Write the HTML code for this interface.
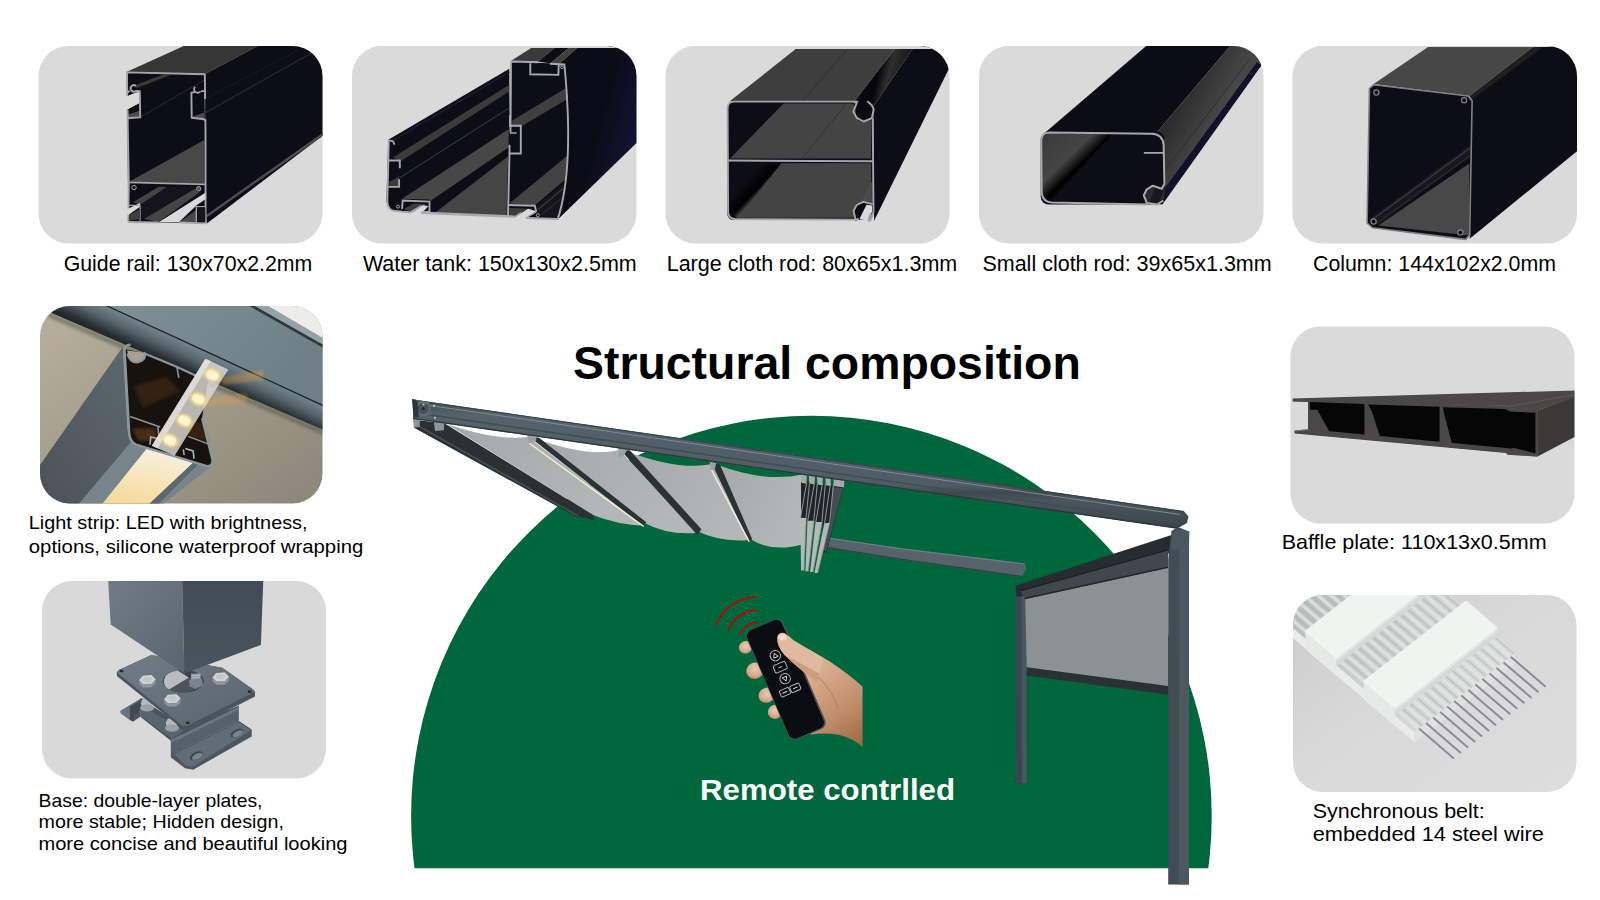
<!DOCTYPE html>
<html><head><meta charset="utf-8"><title>Structural composition</title>
<style>
html,body{margin:0;padding:0;background:#fff;}
body{width:1600px;height:900px;overflow:hidden;font-family:"Liberation Sans",sans-serif;}
svg{display:block;font-family:"Liberation Sans",sans-serif;}
</style></head><body>
<svg width="1600" height="900" viewBox="0 0 1600 900">
<defs>
<clipPath id="c_t1"><rect x="38.5" y="46" width="284" height="197.5" rx="30" ry="30"/></clipPath>
<clipPath id="c_t2"><rect x="352" y="46" width="284.5" height="197.5" rx="30" ry="30"/></clipPath>
<clipPath id="c_t3"><rect x="665.5" y="46" width="284" height="197.5" rx="30" ry="30"/></clipPath>
<clipPath id="c_t4"><rect x="979" y="46" width="284.5" height="197.5" rx="30" ry="30"/></clipPath>
<clipPath id="c_t5"><rect x="1292.5" y="46" width="284.5" height="197.5" rx="30" ry="30"/></clipPath>
<clipPath id="c_led"><rect x="40" y="306" width="282.5" height="197.5" rx="30" ry="30"/></clipPath>
<clipPath id="c_base"><rect x="42" y="581" width="284" height="197.5" rx="30" ry="30"/></clipPath>
<clipPath id="c_baf"><rect x="1290.5" y="326.5" width="284" height="197" rx="30" ry="30"/></clipPath>
<clipPath id="c_belt"><rect x="1293" y="595" width="283.5" height="197" rx="30" ry="30"/></clipPath>
<clipPath id="c_dome"><rect x="400" y="400" width="830" height="468.2"/></clipPath>
<linearGradient id="g_beam" x1="0" y1="0" x2="0.02" y2="1">
<stop offset="0" stop-color="#3f4a51"/><stop offset="0.12" stop-color="#53626b"/><stop offset="0.68" stop-color="#4d5c65"/><stop offset="0.74" stop-color="#3e494f"/><stop offset="0.8" stop-color="#4a565d"/><stop offset="1" stop-color="#3b454c"/></linearGradient>
<linearGradient id="g_fab" x1="0" y1="0" x2="1" y2="0.4">
<stop offset="0" stop-color="#a4a8a9"/><stop offset="1" stop-color="#b4b7b8"/></linearGradient>
<linearGradient id="g_skin" gradientUnits="userSpaceOnUse" x1="790" y1="640" x2="862" y2="745"><stop offset="0" stop-color="#e9c4aa"/><stop offset="0.35" stop-color="#d9ab8d"/><stop offset="0.7" stop-color="#c08c6a"/><stop offset="1" stop-color="#9c6846"/></linearGradient>
<radialGradient id="g_fing" cx="0.55" cy="0.4" r="0.7"><stop offset="0" stop-color="#ebc9b2"/><stop offset="0.6" stop-color="#d9ab8f"/><stop offset="1" stop-color="#b07b5c"/></radialGradient>
<linearGradient id="g_t2s" x1="0" y1="0" x2="1" y2="0.55"><stop offset="0" stop-color="#0c0c19"/><stop offset="0.55" stop-color="#0b0b16"/><stop offset="1" stop-color="#15153a"/></linearGradient>
<linearGradient id="g_t3g" x1="0" y1="0" x2="1" y2="0.3"><stop offset="0" stop-color="#101018"/><stop offset="0.45" stop-color="#05050a"/><stop offset="0.62" stop-color="#2f2f2f"/><stop offset="1" stop-color="#0c0c14"/></linearGradient>
<linearGradient id="g_t3h" x1="0" y1="0" x2="1" y2="1"><stop offset="0.3" stop-color="#0d0d17"/><stop offset="0.5" stop-color="#000"/><stop offset="0.62" stop-color="#777"/><stop offset="0.75" stop-color="#444"/></linearGradient>
<linearGradient id="g_t4s" x1="0" y1="0" x2="1" y2="0.75"><stop offset="0" stop-color="#0e0e14"/><stop offset="0.3" stop-color="#2a2a2a"/><stop offset="0.6" stop-color="#474747"/><stop offset="1" stop-color="#3a3a3a"/></linearGradient>
<linearGradient id="g_t4i" x1="0" y1="0" x2="1" y2="1"><stop offset="0" stop-color="#3a3a3a"/><stop offset="0.36" stop-color="#454545"/><stop offset="0.45" stop-color="#1a1a1a"/><stop offset="0.5" stop-color="#000"/><stop offset="0.6" stop-color="#0d0d17"/></linearGradient>
<linearGradient id="g_ledbg" x1="0" y1="0" x2="1" y2="1"><stop offset="0" stop-color="#b9b19d"/><stop offset="0.45" stop-color="#a39d8c"/><stop offset="1" stop-color="#8b8678"/></linearGradient>
<linearGradient id="g_ledbeam" x1="0" y1="0" x2="1" y2="0.45"><stop offset="0" stop-color="#7f9095"/><stop offset="1" stop-color="#6e7f86"/></linearGradient>
<linearGradient id="g_ledleft" x1="0" y1="1" x2="1" y2="0"><stop offset="0" stop-color="#4a5359"/><stop offset="1" stop-color="#5d686e"/></linearGradient>
<linearGradient id="g_diff" x1="0.6" y1="0" x2="0.3" y2="1"><stop offset="0" stop-color="#f4f0e2"/><stop offset="0.5" stop-color="#f8e6bb"/><stop offset="1" stop-color="#f6d99a"/></linearGradient>
<radialGradient id="g_chip"><stop offset="0" stop-color="#fffbe8"/><stop offset="0.5" stop-color="#ffe9a8"/><stop offset="1" stop-color="#f5c36a" stop-opacity="0"/></radialGradient>
<filter id="f_blur2" x="-20%" y="-20%" width="140%" height="140%"><feGaussianBlur stdDeviation="1.6"/></filter>
<linearGradient id="g_ledband" gradientUnits="userSpaceOnUse" x1="200" y1="352" x2="189" y2="376"><stop offset="0" stop-color="#6d7e85"/><stop offset="0.35" stop-color="#55636a"/><stop offset="0.75" stop-color="#2a3236"/><stop offset="1" stop-color="#1c2225"/></linearGradient>
<linearGradient id="g_colL" x1="0" y1="0" x2="1" y2="1"><stop offset="0" stop-color="#727c86"/><stop offset="1" stop-color="#5a646e"/></linearGradient>
<linearGradient id="g_colR" x1="0" y1="0" x2="0" y2="1"><stop offset="0" stop-color="#424c55"/><stop offset="1" stop-color="#4a545e"/></linearGradient>
<linearGradient id="g_plate" x1="0" y1="0" x2="1" y2="1"><stop offset="0" stop-color="#737d87"/><stop offset="0.6" stop-color="#636d77"/><stop offset="1" stop-color="#5b656f"/></linearGradient>
<linearGradient id="g_tile_belt" x1="0" y1="0" x2="1" y2="1"><stop offset="0" stop-color="#cbcbcb"/><stop offset="0.45" stop-color="#d9d9d9"/><stop offset="1" stop-color="#dddddd"/></linearGradient>
<linearGradient id="g_belt" gradientUnits="userSpaceOnUse" x1="1300" y1="600" x2="1480" y2="720"><stop offset="0" stop-color="#b9bdbd"/><stop offset="0.5" stop-color="#cdd1d0"/><stop offset="1" stop-color="#d8dcda"/></linearGradient>
</defs>
<circle cx="811.4" cy="816" r="400.3" fill="#00663b" clip-path="url(#c_dome)"/>
<polygon points="828,537.5 900,548.2 1024.5,563.5 1026.5,568 1022,577 900,559.5 828,548" fill="#56636a" />
<polyline points="828,538 900,548.7 1024.5,564" fill="none" stroke="#6f7d84" stroke-width="1.2" />
<polyline points="828,547.5 900,559 1022,576.5" fill="none" stroke="#333c42" stroke-width="1.2" />
<path d="M446.7,423.9 Q498.0,441.1 528.3,436.9 L643.8,525.8 Q616.9,524.6 593.6,515.3 Z" fill="url(#g_fab)"/>
<path d="M531.8,437.1 Q586.6,458.1 619.3,450.0 L698.6,532.8 Q668.3,535.8 643.8,522.8 Z" fill="url(#g_fab)"/>
<path d="M623.3,450.2 Q679.3,471.1 712.0,464.1 L749.3,540.0 Q721.3,542.8 696.8,531.1 Z" fill="url(#g_fab)"/>
<path d="M715.5,464.1 Q763.3,482.8 802.5,474.6 L802.9,544.2 Q772.6,552.8 750.5,539.3 Z" fill="url(#g_fab)"/>
<polygon points="801.0,481.7 843.6,486.7 826.5,552.5 823.4,552.5 822.6,523.6 801.0,520.0" fill="#1f2428" />
<polygon points="832.3,487.2 843.0,488.0 826.0,552.5 823.6,549.6 830.9,522.1" fill="#444d52" />
<polygon points="801.0,474.5 806.9,475.2 806.3,483.7 801.4,482.8" fill="#a5abad" />
<polygon points="808.9,475.5 815.0,476.3 814.4,484.5 809.3,483.6" fill="#a5abad" />
<polygon points="817.0,476.5 822.9,477.3 822.3,485.3 817.4,484.4" fill="#a5abad" />
<polygon points="825.4,477.6 830.9,478.3 830.3,486.1 825.8,485.3" fill="#a5abad" />
<polygon points="833.5,478.7 844.5,480.1 843.9,487.5 833.9,486.1" fill="#a5abad" />
<polygon points="800.2,517.8 806.3,518.1 804.0,570.5 801.1,570.5" fill="#b4b8b9" />
<polyline points="806.6,483.1 800.5,517.8" fill="none" stroke="#9ea4a6" stroke-width="0.9" />
<polyline points="809.5,483.8 806.0,518.1" fill="none" stroke="#9ea4a6" stroke-width="0.9" />
<polyline points="806.3,518.1 804.0,570.5" fill="none" stroke="#7e8588" stroke-width="0.7" />
<polygon points="807.5,520.7 814.1,520.7 808.3,571.3 805.4,571.3" fill="#b4b8b9" />
<polyline points="814.4,483.1 807.7,520.7" fill="none" stroke="#9ea4a6" stroke-width="0.9" />
<polyline points="817.3,483.8 813.8,520.7" fill="none" stroke="#9ea4a6" stroke-width="0.9" />
<polyline points="814.1,520.7 808.3,571.3" fill="none" stroke="#7e8588" stroke-width="0.7" />
<polygon points="815.5,522.1 822.2,522.1 813.1,572.1 810.1,572.1" fill="#b4b8b9" />
<polyline points="822.5,483.1 815.8,522.1" fill="none" stroke="#9ea4a6" stroke-width="0.9" />
<polyline points="825.4,483.8 821.9,522.1" fill="none" stroke="#9ea4a6" stroke-width="0.9" />
<polyline points="822.2,522.1 813.1,572.1" fill="none" stroke="#7e8588" stroke-width="0.7" />
<polygon points="824.2,523.6 830.0,522.4 817.7,573.0 814.4,573.0" fill="#b4b8b9" />
<polyline points="830.6,483.1 824.5,523.6" fill="none" stroke="#9ea4a6" stroke-width="0.9" />
<polyline points="833.5,483.8 829.7,522.4" fill="none" stroke="#9ea4a6" stroke-width="0.9" />
<polyline points="830.0,522.4 817.7,573.0" fill="none" stroke="#7e8588" stroke-width="0.7" />
<polygon points="528.3,436.0 539.0,437.8 646.3,522.3 643.8,526.5" fill="#2b3236" />
<polyline points="529.0,443.0 643.8,526.5" fill="none" stroke="#f4efcf" stroke-width="1.5" />
<polygon points="527.1,435.1 536.5,436.9 536.0,441.1 528.8,443.4" fill="#9aa0a2" />
<polygon points="619.3,448.8 630.0,450.4 701.4,529.3 697.4,534.9" fill="#2b3236" />
<polygon points="618.1,447.6 627.4,449.5 623.9,455.8 619.3,457.0" fill="#9aa0a2" />
<polygon points="712.0,463.0 719.9,464.4 752.1,539.0 749.3,542.8" fill="#2b3236" />
<polyline points="711.5,470.0 749.3,541.8" fill="none" stroke="#f4efcf" stroke-width="1.5" />
<polygon points="709.6,461.8 716.2,463.0 714.8,469.5 711.0,470.0" fill="#9aa0a2" />
<polygon points="414.0,419.7 444.3,423.2 594.1,515.8 593.1,520.0 584.3,517.6 577.7,517.6 414.0,427.8" fill="#2a3034" />
<polyline points="417.5,425.5 578.4,516.0" fill="none" stroke="#474f54" stroke-width="1.5" />
<polygon points="412.8,418.5 419.8,419.2 419.8,426.7 414.0,427.8" fill="#8e9598" />
<polygon points="433.8,422.0 444.3,422.9 443.9,430.2 435.0,430.9" fill="#8e9598" />
<polygon points="413,399.5 1184,511.2 1188.5,516.5 1187,523 1177,528.5 413,418.8" fill="url(#g_beam)" />
<polyline points="413,400 1184,511.6" fill="none" stroke="#38424a" stroke-width="1.2" />
<polyline points="430,405.5 1180,514.5" fill="none" stroke="#7d8b92" stroke-width="1" />
<polyline points="413,412.5 1180,523" fill="none" stroke="#414c53" stroke-width="1.4" />
<polyline points="413,418.3 1177,528" fill="none" stroke="#2c353b" stroke-width="1.3" />
<polygon points="412.1,399.1 429.2,402.2 431.5,415.0 418.7,418.5 413.5,417.3" fill="#56636a" />
<circle cx="423.3" cy="408.5" r="6.4" fill="#46525a" stroke="#65737b" stroke-width="1.2"/>
<circle cx="423.3" cy="408.5" r="1.6" fill="#222a30"/>
<rect x="413.6" y="414.6" width="1.8" height="1.8" fill="#c5ccd0"/>
<rect x="433.1" y="404.90000000000003" width="1.8" height="1.8" fill="#c5ccd0"/>
<rect x="434.1" y="416.90000000000003" width="1.8" height="1.8" fill="#c5ccd0"/>
<rect x="422.6" y="403.6" width="1.8" height="1.8" fill="#c5ccd0"/>
<polygon points="412.1,399.1 417.5,401.0 418.7,417.3 413.5,417.3" fill="#2e363b" />
<polygon points="1015.5,585.7 1026.5,588 1026.7,783.3 1015.8,783.3" fill="#3b454c" />
<polygon points="1021.5,587 1026.5,588 1026.7,783.3 1022,783.3" fill="#4b575e" />
<polygon points="1025.3,598 1168,566.5 1168.2,688 1026.7,668.5" fill="#8c9294" />
<polygon points="1015.5,585.7 1171.5,535.1 1171.5,552.5 1025.3,595.9 1016.3,596.4" fill="#262c30" />
<polygon points="1020.1,590.8 1168.4,549.9 1167.9,567.8 1025.3,599.0" fill="#3f484d" />
<polyline points="1020.1,590.8 1168.4,549.9" fill="none" stroke="#1d2226" stroke-width="1.5" />
<polyline points="1024.7,598.5 1167.9,567.3" fill="none" stroke="#22282c" stroke-width="1.5" />
<polygon points="1026.7,667.3 1168.2,685.9 1168.2,694.7 1026.7,675.4" fill="#2a3135" />
<polygon points="1171.5,531 1178,527 1189,531.5 1189,884.4 1168.2,884.4 1168.2,560" fill="#414c53" />
<polygon points="1179.5,548 1189,546 1189,884.4 1179,884.4" fill="#4d5960" />
<polygon points="1171.5,535.1 1177.4,529.5 1189.4,531.5 1188.9,547.4 1171.5,549.9" fill="#4a575e" />
<path d="M792.2,639.5 L804.7,647.0 L817.1,654.0 L829.5,661.3 Q848.2,673.8 862.5,686.5 L862.5,746.9 Q854.4,738.8 838.9,734.7 Q823.3,732.6 810.9,734.4 L795.3,703.3 L789.1,656.7 Z" fill="url(#g_skin)"/>
<path d="M810.9,672.2 Q829.5,683.1 838.9,709.5" fill="none" stroke="#a9775a" stroke-width="1.2" opacity="0.55"/>
<ellipse cx="745.6" cy="647.3" rx="6.8" ry="6.2" fill="url(#g_fing)" transform="rotate(-20 745.6 647.3)"/>
<ellipse cx="754.9" cy="670.7" rx="8.7" ry="8.1" fill="url(#g_fing)" transform="rotate(-20 754.9 670.7)"/>
<ellipse cx="767.0" cy="695.2" rx="8.6" ry="7.5" fill="url(#g_fing)" transform="rotate(-20 767.0 695.2)"/>
<ellipse cx="775.1" cy="711.9" rx="7.3" ry="7.0" fill="url(#g_fing)" transform="rotate(-20 775.1 711.9)"/>
<g transform="translate(786,679.4) rotate(-23.2)"><rect x="-20" y="-59.5" width="40" height="119" rx="7" fill="#4a5158"/><rect x="-19.3" y="-59.1" width="37.7" height="117.6" rx="6.5" fill="#0a0d12"/><circle cx="-0.5" cy="-26" r="5.2" fill="none" stroke="#bfc3c6" stroke-width="0.9"/><path d="M-2.9,-24.3 L-0.5,-28.6 L1.9,-24.3 Z" fill="none" stroke="#f0f0f0" stroke-width="0.8"/><rect x="-7" y="-17.5" width="13" height="8" rx="1.6" fill="none" stroke="#bfc3c6" stroke-width="0.9"/><path d="M-2.2,-13.5 H1.4" stroke="#e8e8e8" stroke-width="0.8"/><circle cx="-0.5" cy="-1" r="5.2" fill="none" stroke="#bfc3c6" stroke-width="0.9"/><path d="M-2.9,-2.8 L-0.5,1.5 L1.9,-2.8 Z" fill="none" stroke="#f0f0f0" stroke-width="0.8"/><rect x="-11" y="8" width="10" height="6.8" rx="1.3" fill="none" stroke="#bfc3c6" stroke-width="0.9"/><rect x="0.2" y="8" width="10" height="6.8" rx="1.3" fill="none" stroke="#bfc3c6" stroke-width="0.9"/><path d="M-8.5,11.4 H-3.5 M2.7,11.4 H7.7" stroke="#e8e8e8" stroke-width="0.9"/></g>
<path d="M777.1,637.7 Q778.2,631.8 784.4,633.0 Q789.9,636.4 793.8,640.8 L806.2,647.9 L823.3,657.9 L817.1,683.1 Q807.8,675.3 803.1,671.6 Q792.2,662.9 784.4,655.1 Q776.7,645.8 777.1,637.7 Z" fill="#e2b99e"/>
<path d="M784.4,655.1 Q792.2,662.9 803.1,671.6 Q807.8,675.3 817.1,683.1 L819.4,673.8 Q803.1,664.4 784.4,655.1 Z" fill="#c4926f" opacity="0.7"/>
<path d="M777.9,638.0 Q779.0,633.3 784.1,634.1 Q787.9,636.7 786.0,640.3 Q780.5,641.1 777.9,638.0 Z" fill="#f3dccd"/>
<path d="M716.3,624.3 A45.3,45.3 0 0 1 754.8,596.8" fill="none" stroke="#c00000" stroke-width="1.8" stroke-linecap="round"/>
<path d="M728.5,629.5 A32,32 0 0 1 755.8,610.1" fill="none" stroke="#c00000" stroke-width="1.8" stroke-linecap="round"/>
<path d="M740.2,634.5 A19.3,19.3 0 0 1 756.7,622.7" fill="none" stroke="#c00000" stroke-width="1.8" stroke-linecap="round"/>
<rect x="38.5" y="46" width="284" height="197.5" rx="30" ry="30" fill="#dadada"/>
<g clip-path="url(#c_t1)">
<polygon points="126.4,72.0 185.3,45.3 259.3,45.3 205.1,74.1" fill="#363636" />
<polygon points="205.1,74.1 259.3,45.3 324.0,45.3 324.0,136.0 323.3,135.3 206.9,223.6 205.3,210.0" fill="#0d0d17" />
<polyline points="205.3,112.7 312.0,52.7" fill="none" stroke="#2a2a33" stroke-width="1.2" />
<polyline points="205.3,98.7 297.3,50.7" fill="none" stroke="#1a1a24" stroke-width="1" />
<polyline points="206.1,216.4 323.3,134.0" fill="none" stroke="#4e4e4e" stroke-width="2.4" />
<polygon points="126.9,72.5 204.3,74.4 206.4,223.3 128.3,222.0" fill="#0d0d17" />
<polygon points="130.4,180.9 204.3,140.0 204.3,183.6 130.4,181.7" fill="#484848" />
<polyline points="140.0,117.3 204.3,80.0" fill="none" stroke="#2b2b36" stroke-width="1" />
<polygon points="131.7,84.9 160.4,74.4 176.0,74.8 137.9,90.7" fill="#101018" />
<polygon points="133.6,85.7 163.5,74.6 171.3,74.8 136.7,88.0" fill="#3a3a3a" />
<polygon points="120.0,96.5 127.0,95.8 139.1,91.5 139.1,103.5 127.4,109.8 120.0,112.9" fill="#dadada" />
<polygon points="127.4,109.8 139.1,103.5 139.1,117.2 127.8,117.9" fill="#101018" />
<polygon points="127.8,114.4 139.1,110.9 139.1,117.2 127.8,117.9" fill="#4e4e4e" />
<polygon points="127.2,91.1 136.7,91.1 127.2,96.2" fill="#0d0d17" />
<polygon points="192.7,116.4 204.4,112.5 204.4,119.1 192.7,117.5" fill="#4a4a4a" />
<polyline points="127.2,95.9 127.0,72.4 204.8,74.2 205.1,98.9" fill="none" stroke="#a6a6aa" stroke-width="1.9" stroke-linejoin="round"/>
<path d="M127.2,92.7 L129.7,90.7 M135.9,86.0 A 3.2 3.2 0 1 0 135.9,90.9 L139.8,91.3 L140.2,117.4 L127.6,118.2" fill="none" stroke="#a6a6aa" stroke-width="1.9" stroke-linejoin="round"/>
<path d="M204.4,91.1 L200.9,91.1 M195.0,86.8 A 3.2 3.2 0 1 0 200.5,91.5 M195.8,91.9 L191.4,92.7 L191.7,117.7 L204.1,119.3 L205.5,120.3" fill="none" stroke="#a6a6aa" stroke-width="1.9" stroke-linejoin="round"/>
<polyline points="127.6,109.8 127.8,130.0 128.8,182.7 128.3,222.0" fill="none" stroke="#a6a6aa" stroke-width="1.9" />
<polyline points="205.4,119.5 205.5,130.0 205.6,223.3" fill="none" stroke="#a6a6aa" stroke-width="1.9" />
<polyline points="128.8,182.3 205.3,184.4" fill="none" stroke="#a6a6aa" stroke-width="1.8" />
<circle cx="134.0" cy="187.6" r="2.2" fill="none" stroke="#a6a6aa" stroke-width="1"/>
<circle cx="198.7" cy="188.7" r="2.2" fill="#55555a" stroke="#a6a6aa" stroke-width="1"/>
<polygon points="133.3,202.0 160.0,186.0 194.7,187.3 146.7,218.0 140.0,218.0 140.0,204.7" fill="#14141d" />
<polygon points="133.3,202.0 158.7,186.7 166.7,187.1 140.0,204.7" fill="#444" />
<polygon points="144.0,219.1 194.7,188.7 200.0,192.0 158.7,222.0" fill="#454545" />
<polygon points="158.7,222.3 205.3,192.7 205.3,199.3 196.7,205.3 178.7,222.3" fill="#dadada" />
<polygon points="178.7,222.3 196.7,210.0 196.7,222.3" fill="#484848" />
<polygon points="125.3,210.0 140.0,203.1 140.0,206.7 128.0,215.3" fill="#dadada" />
<polyline points="128.8,205.3 140.0,205.3 140.0,220.7" fill="none" stroke="#a6a6aa" stroke-width="1.3" />
<polyline points="128.3,222.0 158.7,222.3" fill="none" stroke="#a6a6aa" stroke-width="1.8" />
<polygon points="128.8,215.3 140.0,208.7 140.0,219.3 128.8,220.4" fill="#3e3e3e" />
<polyline points="178.7,222.3 206.7,223.3" fill="none" stroke="#a6a6aa" stroke-width="1.8" />
<polyline points="196.3,222.0 196.3,206.7 205.6,206.7" fill="none" stroke="#a6a6aa" stroke-width="1.3" />
<polygon points="197.1,207.6 205.3,207.6 205.3,222.0 197.1,221.3" fill="#15151e" />
</g>
<rect x="352" y="46" width="284.5" height="197.5" rx="30" ry="30" fill="#dadada"/>
<g clip-path="url(#c_t2)">
<path d="M564.4,63.8 L589.6,44.8 L643.2,44.8 L639.3,140.3 L557.5,219.8 Q575.0,167.5 564.4,63.8 Z" fill="url(#g_t2s)"/>
<polygon points="510.8,60.9 536.3,44.8 558.7,44.8 537.9,61.5" fill="#3a3a3a" />
<polygon points="537.9,61.5 558.7,44.8 572.6,44.8 550.3,63.5" fill="#0c0c15" />
<polygon points="550.3,63.5 572.6,44.8 580.7,44.8 559.1,64.1" fill="#404040" />
<polygon points="559.1,64.1 580.7,44.8 590.4,44.8 565.2,64.5" fill="#0c0c15" />
<polygon points="388.3,139.8 509.3,68.8 509.3,215.9 421.3,212.6 391.0,210.0 386.4,201.2" fill="#0d0d17" />
<polyline points="391.0,141.6 509.3,72.1" fill="none" stroke="#1c1c2e" stroke-width="1.6" />
<polygon points="392.8,157.6 509.3,84.8 509.3,91.5 401.1,160.9" fill="#3b3b3b" />
<polyline points="400.2,177.4 509.3,108.0" fill="none" stroke="#4a4a58" stroke-width="0.8" />
<polygon points="389.2,181.8 399.3,176.6 399.3,186.5 389.2,186.5" fill="#3b3b3b" />
<polygon points="402.0,198.8 509.3,128.8 509.3,147.1 430.4,201.0 429.1,199.4" fill="#474747" />
<polygon points="435.0,212.8 509.3,155.4 508.4,216.2" fill="#454545" />
<polygon points="403.8,208.9 413.9,203.4 425.8,204.1 419.4,211.8 410.3,211.8" fill="#3c3c3c" />
<path d="M510.8,61.5 L564.4,64.1 Q575.0,167.5 557.5,219.5 L506.5,216.2 Z" fill="#0d0d17"/>
<polygon points="512.2,120.5 566.5,87.8 567.9,98.8 521.5,126.3 512.2,126.3" fill="#3f3f3f" />
<polygon points="509.4,203.5 567.5,155.6 564.8,180.0 535.0,205.2" fill="#434343" />
<polygon points="536.2,206.2 563.8,183.8 560.0,217.5 542.5,216.2 536.2,213.5" fill="#15151d" />
<polyline points="537.5,210.0 562.8,188.8" fill="none" stroke="#3a3a3a" stroke-width="1.2" />
<polyline points="541.2,215.0 561.5,198.1" fill="none" stroke="#333" stroke-width="1" />
<polygon points="509.4,208.1 533.1,208.8 520.0,216.2 509.4,215.0" fill="#3c3c3c" />
<polygon points="410.3,214.0 421.4,214.0 428.4,206.0 422.5,205.2" fill="#dadada" />
<polygon points="514.8,217.5 525.8,218.2 536.2,211.2 528.1,208.8" fill="#dadada" />
<path d="M510.5,132.6 L511.0,63.2 Q511.0,61.5 512.9,61.5 L537.9,62.2 M530.3,63.2 L530.3,74.2 L558.4,74.9 L558.7,64.5 M550.0,63.8 L564.4,64.5 Q574.4,167.5 557.8,219.0 L526.0,218.0" fill="none" stroke="#a9a9ad" stroke-width="1.9"/>
<circle cx="562.0" cy="67.2" r="1.4" fill="#0d0d17" stroke="#a9a9ad" stroke-width="0.9"/>
<polyline points="510.0,115.0 510.0,125.7 520.8,125.7 520.8,153.5 509.5,153.5 508.0,215.9" fill="none" stroke="#a9a9ad" stroke-width="1.9" />
<polyline points="510.0,133.0 516.6,133.0" fill="none" stroke="#a9a9ad" stroke-width="1.4" />
<polyline points="509.5,144.7 509.5,153.5" fill="none" stroke="#a9a9ad" stroke-width="1.9" />
<polyline points="507.8,205.0 534.8,205.8 536.2,211.9" fill="none" stroke="#a9a9ad" stroke-width="1.9" />
<polyline points="525.6,218.0 536.2,211.9" fill="none" stroke="#a9a9ad" stroke-width="1.4" />
<circle cx="537.8" cy="215.2" r="1.5" fill="#0d0d17" stroke="#a9a9ad" stroke-width="0.9"/>
<polyline points="421.2,212.8 506.5,216.2 514.8,216.8" fill="none" stroke="#a9a9ad" stroke-width="2.4" />
<polyline points="514.8,216.8 521.2,212.5" fill="none" stroke="#a9a9ad" stroke-width="1.4" />
<path d="M394.3,144.7 Q393.8,140.0 388.8,140.7 L387.3,201.2 Q387.3,210.4 395.6,211.1 L410.3,212.6 L421.4,205.8" fill="none" stroke="#a9a9ad" stroke-width="1.9"/>
<polyline points="388.4,160.5 399.8,160.5 399.8,168.2" fill="none" stroke="#a9a9ad" stroke-width="1.9" />
<polyline points="388.4,186.9 399.1,186.9 399.1,179.2" fill="none" stroke="#a9a9ad" stroke-width="1.9" />
<polyline points="402.0,208.9 402.7,200.5 429.5,201.6 429.5,211.5 421.8,212.6" fill="none" stroke="#a9a9ad" stroke-width="1.9" />
<circle cx="398.0" cy="206.7" r="1.5" fill="#0d0d17" stroke="#a9a9ad" stroke-width="0.9"/>
</g>
<rect x="352" y="45" width="285" height="3" fill="#dadada" clip-path="url(#c_t2)"/>
<rect x="665.5" y="46" width="284" height="197.5" rx="30" ry="30" fill="#dadada"/>
<g clip-path="url(#c_t3)">
<polygon points="730.0,101.1 801.1,44.7 897.9,44.7 854.8,101.1" fill="#3e3e3e" />
<polyline points="802.3,101.1 851.3,44.7" fill="none" stroke="#2c2c2c" stroke-width="0.8" />
<polygon points="854.8,101.1 897.9,44.7 915.4,44.7 873.4,106.5 865.3,120.5 857.1,117.0" fill="url(#g_t3g)" />
<polygon points="873.4,106.5 915.4,44.7 953.9,44.7 950.4,65.7 874.1,220.8" fill="#0d0d17" />
<rect x="727.2" y="101.3" width="146" height="118.8" rx="6.5" fill="#0d0d17"/>
<polygon points="783.6,103.4 853.6,103.4 858.3,120.5 871.1,120.5 871.1,158.5 730.0,158.5" fill="#444444" />
<polygon points="773.1,163.2 871.1,163.2 871.1,201.0 855.9,203.3 853.6,217.7 737.0,217.7 731.1,211.4" fill="#444444" />
<polygon points="762.6,163.2 781.3,163.2 738.1,217.7 730.0,212.6 730.0,203.3" fill="url(#g_t3h)" />
<polyline points="846.6,103.4 802.3,158.5" fill="none" stroke="#2e2e2e" stroke-width="0.8" />
<path d="M858.3,102.5 L871.1,102.5 L871.8,119.3 L862.9,121.2 L855.5,115.1 Z" fill="#0a0a10"/>
<path d="M858.3,101.6 L733.5,101.6 Q727.6,101.6 727.6,108.8 L728.1,212.6 Q728.8,219.1 735.8,219.1 L857.1,219.6" fill="none" stroke="#a6a6a9" stroke-width="1.9"/>
<path d="M854.0,101.8 L856.7,103.1 L853.3,111.6 L856.7,117.8 L863.8,121.5 L871.8,118.2 L873.7,109.3 L871.8,105.3 L867.3,101.3" fill="none" stroke="#a6a6a9" stroke-width="1.9" stroke-linejoin="round"/>
<polygon points="859.3,219.3 866.5,204.8 872.0,205.6 872.1,211.3 868.3,220.8" fill="#dadada" />
<polygon points="855.5,211.0 858.1,205.9 866.0,204.4 858.8,218.7" fill="#0a0a12" />
<polygon points="861.3,201.2 872.7,180.0 872.7,203.5 867.3,202.3" fill="#4e4e4e" opacity="0.8"/>
<path d="M855.0,220.8 L858.7,218.7 M855.7,220.0 L853.5,211.0 L856.7,204.8 L863.3,201.8 L872.7,204.1" fill="none" stroke="#a6a6a9" stroke-width="1.9" stroke-linejoin="round"/>
<path d="M872.7,118.8 L873.5,212.0 L870.3,220.8 L868.1,220.5 L870.8,213.3" fill="none" stroke="#a6a6a9" stroke-width="1.9" stroke-linejoin="round"/>
<polyline points="728.1,160.6 872.7,161.3" fill="none" stroke="#a6a6a9" stroke-width="2" />
</g>
<rect x="665" y="45" width="285" height="4" fill="#dadada" clip-path="url(#c_t3)"/>
<rect x="979" y="46" width="284.5" height="197.5" rx="30" ry="30" fill="#dadada"/>
<g clip-path="url(#c_t4)">
<polygon points="1045.8,132.1 1147.7,44.7 1231.3,44.7 1156.6,132.8" fill="#0c0c16" />
<polygon points="1156.6,132.8 1231.3,44.7 1263.9,44.7 1261.1,65.2 1164.1,194.0 1164.8,140.3" fill="url(#g_t4s)" />
<polygon points="1164.1,189.3 1256.9,62.2 1261.6,65.2 1162.4,204.5 1151.9,203.3" fill="#11112a" />
<polyline points="1164.8,170.6 1249.9,58.7" fill="none" stroke="#2a2a2a" stroke-width="0.8" />
<rect x="1040.7" y="131.6" width="124" height="73" rx="8" fill="#0d0d17"/>
<polygon points="1042.8,138.0 1047.0,133.8 1112.3,133.8 1050.5,201.0 1042.8,194.0" fill="url(#g_t4i)" />
<polygon points="1146.5,190.2 1153.3,186.3 1162.3,189.2 1164.6,184.4 1164.9,193.9 1163.4,200.3 1157.0,204.3 1147.5,202.9 1144.4,195.5" fill="#2b2b2b" />
<polygon points="1154.9,187.6 1163.4,189.7 1159.1,203.4 1149.6,202.4" fill="#111118" opacity="0.7"/>
<path d="M1163.4,200.5 L1157.0,204.5 L1147.0,203.1 L1143.8,195.5 L1146.5,189.7 L1152.8,185.7 L1161.8,188.8 L1164.4,183.6 L1163.6,144.8 Q1162.8,134.3 1151.7,133.7 L1049.3,132.4 Q1041.4,132.8 1041.4,140.8 L1041.8,194.0 Q1043.5,202.1 1051.6,202.6 L1147.0,204.5" fill="none" stroke="#a8a8ac" stroke-width="2" stroke-linejoin="round"/>
<polyline points="1143.8,152.9 1163.4,152.9" fill="none" stroke="#a8a8ac" stroke-width="1.8" />
</g>
<rect x="1292.5" y="46" width="284.5" height="197.5" rx="30" ry="30" fill="#dadada"/>
<g clip-path="url(#c_t5)">
<polygon points="1373.6,83.9 1431.5,44.7 1535.8,44.7 1469.3,96.0" fill="#474747" />
<polygon points="1469.3,96.0 1535.8,44.7 1548.6,44.7 1472.8,101.1" fill="#1f1f1f" />
<polygon points="1472.3,99.5 1546.3,44.7 1578.9,44.7 1578.9,149.6 1469.7,238.7" fill="#0d0d17" />
<polygon points="1373.6,84.8 1468.1,96.0 1472.1,101.1 1469.7,234.8 1465.8,239.4 1372.5,227.8 1367.1,223.1 1369.4,88.5" fill="#0d0d17" />
<polygon points="1378.3,225.4 1469.3,163.6 1469.3,235.5" fill="#484848" />
<polygon points="1369.4,218.4 1470.4,144.5 1470.4,156.6 1378.3,224.7" fill="#17171d" />
<polyline points="1370.8,220.8 1470.4,147.8" fill="none" stroke="#3c3c3c" stroke-width="1.4" />
<polyline points="1374.8,224.3 1470.4,155.5" fill="none" stroke="#333" stroke-width="1" />
<polygon points="1373.6,84.8 1468.1,96.0 1472.1,101.1 1469.7,234.8 1465.8,239.4 1372.5,227.8 1367.1,223.1 1369.4,88.5" fill="none" stroke="#808084" stroke-width="1.6" stroke-linejoin="round"/>
<circle cx="1376.4" cy="92.5" r="2.6" fill="#0d0d17" stroke="#808084" stroke-width="1.2"/>
<circle cx="1464.1" cy="100.2" r="2.6" fill="#0d0d17" stroke="#808084" stroke-width="1.2"/>
<circle cx="1373.6" cy="221.5" r="2.6" fill="#0d0d17" stroke="#808084" stroke-width="1.2"/>
<circle cx="1460.4" cy="232.4" r="2.6" fill="#0d0d17" stroke="#808084" stroke-width="1.2"/>
</g>
<rect x="1292" y="45" width="285" height="2" fill="#dadada" clip-path="url(#c_t5)"/>
<rect x="40" y="306" width="282.5" height="197.5" rx="30" fill="url(#g_ledbg)"/>
<g clip-path="url(#c_led)">
<polygon points="107.0,304.7 246.9,304.7 323.9,344.8 323.9,407.3" fill="url(#g_ledbeam)" />
<polygon points="34.7,305.6 104.6,304.7 323.9,405.9 323.9,430.2" fill="url(#g_ledband)" />
<polygon points="34.7,305.6 323.9,430.2 323.9,435.3 34.7,311.7" fill="#3a3c38" opacity="0.4" filter="url(#f_blur2)"/>
<polyline points="104.6,304.7 323.9,405.9" fill="none" stroke="#1d2428" stroke-width="1.3" />
<polygon points="246.9,304.7 252.8,304.7 323.9,345.0 323.9,348.3" fill="#2f393d" />
<polygon points="252.8,304.7 266.1,304.7 323.9,338.5 323.9,345.0" fill="#93a3a8" />
<polygon points="266.1,304.7 323.9,304.7 323.9,338.5" fill="#ececea" />
<polygon points="122.8,346.7 39.3,466.1 39.3,505.3 77.8,505.3 132.6,440.4 127.5,430.6" fill="url(#g_ledleft)" />
<polygon points="132.6,440.4 77.8,505.3 161.8,505.3 211.5,466.1 209.6,464.5" fill="#77848a" />
<polygon points="146.6,448.8 194.5,461.4 147.8,505.3 101.1,505.3" fill="url(#g_diff)" />
<polygon points="194.5,461.4 199.1,463.3 157.1,505.3 147.8,505.3" fill="#5d686e" />
<path d="M124.6,349.3 L145.3,352.9 L177.2,366.9 L208.3,380.1 L202.1,417.4 L212.7,459.4 Q213.0,467.2 206.0,465.9 L134.4,443.9 L129.3,434.5 Z" fill="#17120e"/>
<polygon points="133.7,386.3 166.3,377.0 180.3,391.0 143.0,408.1" fill="#3b2513" opacity="0.75" filter="url(#f_blur2)"/>
<polygon points="132.1,428.3 155.4,428.3 157.0,440.8 138.3,440.8" fill="#5f3a1b" opacity="0.7" filter="url(#f_blur2)"/>
<polygon points="188.1,422.1 202.1,422.1 208.3,442.3 188.1,436.1" fill="#4b2d14" opacity="0.6" filter="url(#f_blur2)"/>
<path d="M127.1,350.6 Q128.2,362.2 136.8,362.2 Q146.1,360.7 144.5,352.4 Z" fill="#a8a190"/>
<path d="M127.4,353.7 Q129.8,362.7 137.1,362.4 Q146.9,360.7 144.5,352.1" fill="none" stroke="#8a979c" stroke-width="2.2"/>
<path d="M130.6,344.6 Q124.3,344.6 124.6,350.6 L129.3,434.5 Q130.6,442.3 136.0,444.6 L206.0,465.9 Q213.3,467.2 212.4,459.4 L202.1,418.2" fill="none" stroke="#8a979c" stroke-width="2.4" stroke-linejoin="round"/>
<polyline points="144.5,353.4 177.2,366.9 195.9,375.7" fill="none" stroke="#8a979c" stroke-width="2.2" />
<polyline points="176.9,366.9 178.8,377.8" fill="none" stroke="#8a979c" stroke-width="1.6" />
<polyline points="130.2,416.6 160.1,427.1" fill="none" stroke="#8a979c" stroke-width="1.6" />
<polyline points="157.9,426.8 158.9,436.9" fill="none" stroke="#8a979c" stroke-width="1.6" />
<polyline points="150.0,444.6 150.8,436.9 161.7,439.5" fill="none" stroke="#a9b4b8" stroke-width="1.6" />
<polyline points="183.4,449.3 184.1,455.1" fill="none" stroke="#a9b4b8" stroke-width="1.4" />
<polyline points="194.0,458.6 193.1,450.9 185.3,448.5" fill="none" stroke="#a9b4b8" stroke-width="1.6" />
<polyline points="188.1,436.4 208.6,444.2" fill="none" stroke="#8a979c" stroke-width="1.4" />
<polygon points="205.4,358.8 228.3,369.5 174.6,455.8 151.8,445.8" fill="#dcdcd6" opacity="0.82"/>
<polygon points="205.4,358.8 210.8,361.1 157.8,448.4 151.8,445.8" fill="#f2f2ee" opacity="0.6"/>
<polygon points="223.6,377.0 263.3,370.0 263.3,380.5 221.3,385.1" fill="#f0a040" opacity="0.35" filter="url(#f_blur2)"/>
<polygon points="209.6,398.0 246.9,393.3 246.9,402.6 207.3,406.1" fill="#f0a040" opacity="0.3" filter="url(#f_blur2)"/>
<ellipse cx="212.4" cy="375.1" rx="11" ry="8.5" fill="url(#g_chip)" transform="rotate(25 212.4 375.1)"/>
<rect x="206.9" y="371.5" width="11" height="7.2" rx="1.5" fill="#fff6d0" transform="rotate(25 212.4 375.1)"/>
<ellipse cx="198.4" cy="399.1" rx="11" ry="8.5" fill="url(#g_chip)" transform="rotate(25 198.4 399.1)"/>
<rect x="192.9" y="395.5" width="11" height="7.2" rx="1.5" fill="#fff6d0" transform="rotate(25 198.4 399.1)"/>
<ellipse cx="184.4" cy="420.6" rx="11" ry="8.5" fill="url(#g_chip)" transform="rotate(25 184.4 420.6)"/>
<rect x="178.9" y="417.0" width="11" height="7.2" rx="1.5" fill="#fff6d0" transform="rotate(25 184.4 420.6)"/>
<ellipse cx="170.0" cy="440.4" rx="11" ry="8.5" fill="url(#g_chip)" transform="rotate(25 170.0 440.4)"/>
<rect x="164.5" y="436.79999999999995" width="11" height="7.2" rx="1.5" fill="#fff6d0" transform="rotate(25 170.0 440.4)"/>
</g>
<rect x="42" y="581" width="284" height="197.5" rx="30" ry="30" fill="#d9d9d9"/>
<g clip-path="url(#c_base)">
<polygon points="120.6,710.8 141.7,697.9 152.8,702.8 133.3,715.3 133.1,721.5 129.9,720.1 120.8,713.2" fill="#5c6670" />
<polygon points="129.9,706.9 141.7,700.0 141.7,708.3 133.3,721.5 129.9,720.1" fill="#3f4952" />
<polygon points="120.6,710.8 129.9,706.7 129.9,720.1 120.8,713.2" fill="#6a747e" />
<polygon points="133.3,715.3 140.3,711.1 140.3,716.7 133.3,721.5" fill="#4b555f" />
<polygon points="140.3,698.6 186.1,727.8 238.9,705.6 238.9,709.7 172.2,741.7 140.3,716.7" fill="#4a545e" />
<polygon points="141.7,705.6 183.3,730.6 172.2,738.9 141.0,716.0" fill="#5a646e" />
<polygon points="170.8,740.0 238.9,706.7 238.9,721.1 170.8,754.4" fill="#56606a" />
<polygon points="170.8,740.0 238.9,706.7 238.9,709.7 172.2,742.8" fill="#6b757f" />
<polygon points="170.8,754.2 238.9,721.1 251.7,729.4 251.7,736.4 193.3,769.7 185.0,768.3 170.8,757.2" fill="#4c5660" />
<polygon points="174.3,753.9 238.9,722.2 251.1,730.3 192.8,766.7 185.0,765.6" fill="#626c76" />
<ellipse cx="236.8" cy="733.1" rx="7" ry="3.6" fill="#3f4851" transform="rotate(-27 236.8 733.1)"/>
<ellipse cx="237.4" cy="734.1" rx="5.6" ry="2.6" fill="#7d858c" transform="rotate(-27 236.8 733.1)"/>
<ellipse cx="196.1" cy="755.8" rx="7" ry="3.6" fill="#3f4851" transform="rotate(-27 196.1 755.8)"/>
<ellipse cx="196.7" cy="756.8" rx="5.6" ry="2.6" fill="#7d858c" transform="rotate(-27 196.1 755.8)"/>
<ellipse cx="146.5" cy="703.5" rx="5.5" ry="6" fill="#b4b9be"/>
<ellipse cx="147.0" cy="708.0" rx="7" ry="3.6" fill="#99a0a6"/>
<ellipse cx="171.5" cy="723.6" rx="5.5" ry="6" fill="#b4b9be"/>
<ellipse cx="172.0" cy="728.1" rx="7" ry="3.6" fill="#99a0a6"/>
<polygon points="116.9,672.2 118.8,670.1 151.4,654.9 222.2,667.8 252.8,689.2 255.0,691.7 255.0,696.5 188.9,729.9 183.3,729.4 116.9,676.1" fill="#4a545e" />
<polygon points="116.9,672.2 118.8,670.1 151.4,654.9 222.2,667.8 252.8,689.2 255.0,691.7 186.8,726.1 182.6,725.7" fill="url(#g_plate)" />
<ellipse cx="121.5" cy="671.1" rx="2" ry="1.4" fill="#262e35"/>
<ellipse cx="249.7" cy="691.7" rx="2" ry="1.4" fill="#262e35"/>
<ellipse cx="187.8" cy="722.9" rx="2" ry="1.4" fill="#262e35"/>
<ellipse cx="183.3" cy="681.2" rx="20.5" ry="11.3" fill="#3a434b"/>
<path d="M163.9,679.9 Q165.3,672.2 177.8,670.6 L188.9,677.8 L169.4,689.6 Q163.2,686.1 163.9,679.9 Z" fill="#b9bdc1"/>
<path d="M169.4,689.6 L188.9,677.8 L202.8,679.9 Q202.8,688.9 184.7,692.4 Q175.0,692.4 169.4,689.6 Z" fill="#4a545d"/>
<polygon points="191.0,673.6 200.7,673.6 200.7,683.3 191.0,683.3" fill="#8d959c" />
<polygon points="188.9,679.9 202.1,678.5 202.8,685.4 195.8,688.9 189.6,686.4" fill="#7a838b" />
<polyline points="191.7,675.7 200.3,675.0" fill="none" stroke="#c8ccd0" stroke-width="0.8" />
<polyline points="191.7,677.8 200.3,677.1" fill="none" stroke="#c8ccd0" stroke-width="0.8" />
<polygon points="139.2,680.6 142.8,676.0 151.4,675.4 155.6,679.6 155.3,684.0 151.1,687.5 143.1,687.5 139.2,684.3" fill="#8e959b" />
<polygon points="139.2,680.1 142.8,675.7 151.4,675.1 155.6,679.3 151.4,683.8 143.1,684.0" fill="#d2d5d8" />
<ellipse cx="147.2" cy="679.6" rx="5.2" ry="2.8" fill="#c3c7cb"/>
<polygon points="212.5,677.8 216.1,673.2 224.7,672.6 228.9,676.8 228.6,681.2 224.4,684.7 216.4,684.7 212.5,681.5" fill="#8e959b" />
<polygon points="212.5,677.4 216.1,672.9 224.7,672.4 228.9,676.5 224.7,681.0 216.4,681.2" fill="#d2d5d8" />
<ellipse cx="220.6" cy="676.8000000000001" rx="5.2" ry="2.8" fill="#c3c7cb"/>
<polygon points="164.2,699.6 167.8,695.0 176.4,694.4 180.6,698.6 180.3,703.1 176.1,706.5 168.1,706.5 164.2,703.3" fill="#8e959b" />
<polygon points="164.2,699.2 167.8,694.7 176.4,694.2 180.6,698.3 176.4,702.8 168.1,703.1" fill="#d2d5d8" />
<ellipse cx="172.2" cy="698.6" rx="5.2" ry="2.8" fill="#c3c7cb"/>
<polygon points="108.1,579.7 182.1,579.7 184.4,673.4 110.7,624.5" fill="url(#g_colL)" />
<polygon points="182.1,579.7 263.3,579.7 260.9,645.0 184.4,673.4" fill="url(#g_colR)" />
</g>
<rect x="1290.5" y="326.5" width="284" height="197" rx="30" ry="30" fill="#dadada"/>
<g clip-path="url(#c_baf)">
<polygon points="1292.8,398.6 1576.2,390.4 1576.2,397.0 1537.1,410.5 1507.4,408.2 1505.8,405.8 1292.8,401.2" fill="#4a4846" />
<polyline points="1507.4,406.8 1576.2,394.2" fill="none" stroke="#5c5a58" stroke-width="1" />
<polygon points="1537.1,410.5 1576.2,396.5 1576.2,436.2 1537.1,456.7" fill="#3b3938" />
<polygon points="1308.0,400.5 1505.8,405.4 1507.4,407.7 1537.1,410.0 1537.1,456.7 1507.4,454.8 1505.8,452.5 1308.0,434.3" fill="#4a4846" />
<polygon points="1309.9,402.1 1364.4,404.0 1364.4,435.7 1330.2,432.9 1317.3,409.8 1309.9,409.8" fill="#060606" />
<polygon points="1368.2,404.4 1439.6,406.8 1439.6,442.7 1380.3,437.8 1372.1,412.1" fill="#060606" />
<polygon points="1442.8,407.2 1505.1,409.1 1509.8,411.4 1535.4,412.8 1535.4,453.4 1513.3,447.8 1507.4,451.1 1452.6,445.5 1444.5,415.6" fill="#060606" />
<polygon points="1292.8,399.3 1309.2,400.0 1309.2,402.1 1292.8,401.4" fill="#4a4846" />
<polygon points="1294.5,430.6 1309.2,429.2 1513.3,448.8 1513.3,453.4 1505.8,453.0 1294.5,433.4" fill="#4a4846" />
<polyline points="1294.5,431.0 1309.2,429.6" fill="none" stroke="#77746f" stroke-width="1" />
</g>
<rect x="1293" y="595" width="283.5" height="197" rx="30" fill="url(#g_tile_belt)"/>
<g clip-path="url(#c_belt)">
<polygon points="1216.9,562.7 1414.2,732.0 1414.8,742.5 1217.5,573.2" fill="#e9ede9" />
<polygon points="1414.2,732.0 1515.0,653.1 1515.6,663.6 1414.8,742.5" fill="#dfe4e1" opacity="0.92"/>
<polygon points="1216.9,562.7 1414.2,732.0 1515.0,653.1 1317.7,483.8" fill="url(#g_belt)" />
<polyline points="1221.5,559.1 1418.8,728.4" fill="none" stroke="#e3e7e5" stroke-width="3.4" opacity="0.75"/>
<polyline points="1225.0,556.3 1422.3,725.6" fill="none" stroke="#aeb3b3" stroke-width="1.1" opacity="0.7"/>
<polyline points="1228.5,553.6 1425.8,722.9" fill="none" stroke="#e3e7e5" stroke-width="3.4" opacity="0.75"/>
<polyline points="1232.0,550.8 1429.3,720.1" fill="none" stroke="#aeb3b3" stroke-width="1.1" opacity="0.7"/>
<polyline points="1235.6,548.1 1432.9,717.4" fill="none" stroke="#e3e7e5" stroke-width="3.4" opacity="0.75"/>
<polyline points="1239.1,545.3 1436.4,714.6" fill="none" stroke="#aeb3b3" stroke-width="1.1" opacity="0.7"/>
<polyline points="1242.7,542.5 1440.0,711.8" fill="none" stroke="#e3e7e5" stroke-width="3.4" opacity="0.75"/>
<polyline points="1246.2,539.7 1443.5,709.0" fill="none" stroke="#aeb3b3" stroke-width="1.1" opacity="0.7"/>
<polyline points="1249.7,537.0 1447.0,706.3" fill="none" stroke="#e3e7e5" stroke-width="3.4" opacity="0.75"/>
<polyline points="1253.2,534.2 1450.5,703.5" fill="none" stroke="#aeb3b3" stroke-width="1.1" opacity="0.7"/>
<polyline points="1256.7,531.5 1454.0,700.8" fill="none" stroke="#e3e7e5" stroke-width="3.4" opacity="0.75"/>
<polyline points="1260.2,528.7 1457.5,698.0" fill="none" stroke="#aeb3b3" stroke-width="1.1" opacity="0.7"/>
<polyline points="1263.8,526.0 1461.1,695.3" fill="none" stroke="#e3e7e5" stroke-width="3.4" opacity="0.75"/>
<polyline points="1267.3,523.2 1464.6,692.5" fill="none" stroke="#aeb3b3" stroke-width="1.1" opacity="0.7"/>
<polyline points="1270.8,520.5 1468.1,689.8" fill="none" stroke="#e3e7e5" stroke-width="3.4" opacity="0.75"/>
<polyline points="1274.3,517.7 1471.6,687.0" fill="none" stroke="#aeb3b3" stroke-width="1.1" opacity="0.7"/>
<polyline points="1277.9,514.9 1475.2,684.2" fill="none" stroke="#e3e7e5" stroke-width="3.4" opacity="0.75"/>
<polyline points="1281.4,512.1 1478.7,681.4" fill="none" stroke="#aeb3b3" stroke-width="1.1" opacity="0.7"/>
<polyline points="1284.9,509.4 1482.2,678.7" fill="none" stroke="#e3e7e5" stroke-width="3.4" opacity="0.75"/>
<polyline points="1288.4,506.6 1485.7,675.9" fill="none" stroke="#aeb3b3" stroke-width="1.1" opacity="0.7"/>
<polyline points="1292.0,503.9 1489.3,673.2" fill="none" stroke="#e3e7e5" stroke-width="3.4" opacity="0.75"/>
<polyline points="1295.5,501.1 1492.8,670.4" fill="none" stroke="#aeb3b3" stroke-width="1.1" opacity="0.7"/>
<polyline points="1299.0,498.4 1496.3,667.7" fill="none" stroke="#e3e7e5" stroke-width="3.4" opacity="0.75"/>
<polyline points="1302.5,495.6 1499.8,664.9" fill="none" stroke="#aeb3b3" stroke-width="1.1" opacity="0.7"/>
<polyline points="1306.1,492.9 1503.4,662.2" fill="none" stroke="#e3e7e5" stroke-width="3.4" opacity="0.75"/>
<polyline points="1309.6,490.1 1506.9,659.4" fill="none" stroke="#aeb3b3" stroke-width="1.1" opacity="0.7"/>
<polyline points="1313.2,487.3 1510.5,656.6" fill="none" stroke="#e3e7e5" stroke-width="3.4" opacity="0.75"/>
<polyline points="1316.7,484.5 1514.0,653.8" fill="none" stroke="#aeb3b3" stroke-width="1.1" opacity="0.7"/>
<polyline points="1419.6,729.1 1453.3,758.0" fill="none" stroke="#8c8c98" stroke-width="2.0" stroke-linecap="round"/>
<polyline points="1426.6,723.6 1460.3,752.5" fill="none" stroke="#8c8c98" stroke-width="2.0" stroke-linecap="round"/>
<polyline points="1433.7,718.1 1467.4,747.0" fill="none" stroke="#8c8c98" stroke-width="2.0" stroke-linecap="round"/>
<polyline points="1440.8,712.5 1474.5,741.4" fill="none" stroke="#8c8c98" stroke-width="2.0" stroke-linecap="round"/>
<polyline points="1447.8,707.0 1481.5,735.9" fill="none" stroke="#8c8c98" stroke-width="2.0" stroke-linecap="round"/>
<polyline points="1454.8,701.5 1488.5,730.4" fill="none" stroke="#8c8c98" stroke-width="2.0" stroke-linecap="round"/>
<polyline points="1461.9,696.0 1495.6,724.9" fill="none" stroke="#8c8c98" stroke-width="2.0" stroke-linecap="round"/>
<polyline points="1468.9,690.5 1502.6,719.4" fill="none" stroke="#8c8c98" stroke-width="2.0" stroke-linecap="round"/>
<polyline points="1476.0,684.9 1509.7,713.8" fill="none" stroke="#8c8c98" stroke-width="2.0" stroke-linecap="round"/>
<polyline points="1483.0,679.4 1516.7,708.3" fill="none" stroke="#8c8c98" stroke-width="2.0" stroke-linecap="round"/>
<polyline points="1490.1,673.9 1523.8,702.8" fill="none" stroke="#8c8c98" stroke-width="2.0" stroke-linecap="round"/>
<polyline points="1497.1,668.4 1530.8,697.3" fill="none" stroke="#8c8c98" stroke-width="2.0" stroke-linecap="round"/>
<polyline points="1504.2,662.9 1537.9,691.8" fill="none" stroke="#8c8c98" stroke-width="2.0" stroke-linecap="round"/>
<polyline points="1511.3,657.3 1545.0,686.2" fill="none" stroke="#8c8c98" stroke-width="2.0" stroke-linecap="round"/>
<polygon points="1246.6,580.5 1277.7,607.2 1278.7,626.2 1247.6,599.5" fill="#e6eae6" />
<polygon points="1277.7,607.2 1380.3,526.9 1380.7,535.4 1278.1,615.7" fill="#d5dad7" />
<polygon points="1277.7,607.2 1380.3,526.9 1380.5,530.4 1277.9,610.7" fill="#e4e8e5" />
<polygon points="1277.7,607.2 1380.3,526.9 1349.2,500.2 1246.6,580.5" fill="#f0f4f0" />
<polyline points="1246.6,580.5 1277.7,607.2 1380.3,526.9" fill="none" stroke="#f9fbf9" stroke-width="1" />
<polygon points="1305.1,630.7 1336.2,657.4 1337.2,676.4 1306.1,649.7" fill="#e6eae6" />
<polygon points="1336.2,657.4 1438.8,577.1 1439.2,585.6 1336.6,665.9" fill="#d5dad7" />
<polygon points="1336.2,657.4 1438.8,577.1 1439.0,580.6 1336.4,660.9" fill="#e4e8e5" />
<polygon points="1336.2,657.4 1438.8,577.1 1407.7,550.4 1305.1,630.7" fill="#f0f4f0" />
<polyline points="1305.1,630.7 1336.2,657.4 1438.8,577.1" fill="none" stroke="#f9fbf9" stroke-width="1" />
<polygon points="1363.5,680.8 1394.6,707.5 1395.6,726.5 1364.5,699.8" fill="#e6eae6" />
<polygon points="1394.6,707.5 1497.2,627.2 1497.6,635.7 1395.0,716.0" fill="#d5dad7" />
<polygon points="1394.6,707.5 1497.2,627.2 1497.4,630.7 1394.8,711.0" fill="#e4e8e5" />
<polygon points="1394.6,707.5 1497.2,627.2 1466.1,600.5 1363.5,680.8" fill="#f0f4f0" />
<polyline points="1363.5,680.8 1394.6,707.5 1497.2,627.2" fill="none" stroke="#f9fbf9" stroke-width="1" />
</g>
<text x="63.7" y="271.2" font-size="21.8" textLength="248.6" lengthAdjust="spacingAndGlyphs" fill="#000">Guide rail: 130x70x2.2mm</text>
<text x="362.9" y="271.2" font-size="21.8" textLength="273.8" lengthAdjust="spacingAndGlyphs" fill="#000">Water tank: 150x130x2.5mm</text>
<text x="666.7" y="271.2" font-size="21.8" textLength="290.6" lengthAdjust="spacingAndGlyphs" fill="#000">Large cloth rod: 80x65x1.3mm</text>
<text x="982.4" y="271.2" font-size="21.8" textLength="289.3" lengthAdjust="spacingAndGlyphs" fill="#000">Small cloth rod: 39x65x1.3mm</text>
<text x="1313.0" y="271.2" font-size="21.8" textLength="243.0" lengthAdjust="spacingAndGlyphs" fill="#000">Column: 144x102x2.0mm</text>
<text x="28.8" y="529.3" font-size="18.3" textLength="278.7" lengthAdjust="spacingAndGlyphs" fill="#000">Light strip: LED with brightness,</text>
<text x="28.8" y="553.4" font-size="18.3" textLength="334.5" lengthAdjust="spacingAndGlyphs" fill="#000">options, silicone waterproof wrapping</text>
<text x="38.5" y="806.8" font-size="18.6" textLength="224.0" lengthAdjust="spacingAndGlyphs" fill="#000">Base: double-layer plates,</text>
<text x="38.5" y="828.2" font-size="18.6" textLength="245.4" lengthAdjust="spacingAndGlyphs" fill="#000">more stable; Hidden design,</text>
<text x="38.5" y="849.8" font-size="18.6" textLength="309.0" lengthAdjust="spacingAndGlyphs" fill="#000">more concise and beautiful looking</text>
<text x="1281.7" y="549.4" font-size="20.9" textLength="265.0" lengthAdjust="spacingAndGlyphs" fill="#000">Baffle plate: 110x13x0.5mm</text>
<text x="1312.7" y="817.75" font-size="20.7" textLength="172.1" lengthAdjust="spacingAndGlyphs" fill="#000">Synchronous belt:</text>
<text x="1312.7" y="841" font-size="20.7" textLength="231.2" lengthAdjust="spacingAndGlyphs" fill="#000">embedded 14 steel wire</text>
<text x="573.0" y="379" font-size="45.8" textLength="507.8" lengthAdjust="spacingAndGlyphs" font-weight="700" fill="#000">Structural composition</text>
<text x="700.05" y="799.65" font-size="29.5" textLength="255.0" lengthAdjust="spacingAndGlyphs" font-weight="700" fill="#fff">Remote contrlled</text>
</svg>
</body></html>
